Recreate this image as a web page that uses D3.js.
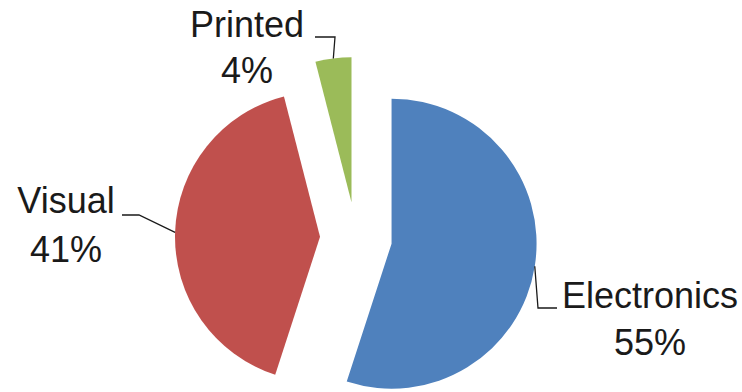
<!DOCTYPE html>
<html>
<head>
<meta charset="utf-8">
<script src="https://cdn.jsdelivr.net/npm/d3@7"></script>
<style>
  body { margin: 0; padding: 0; background: #fff; }
  svg { display: block; }
  text { font-family: "Liberation Sans", Arial, sans-serif; fill: #1a1a1a; }
</style>
</head>
<body>
<script>
var categories = ["Electronics", "Visual", "Printed"];
var values = [55, 41, 4];
var colors = ["#4f81bd", "#c0504d", "#9bbb59"];

var W = 742, H = 392;
var cx = 356, cy = 238, R = 145, explode = 36;

var svg = d3.select("body").append("svg")
  .attr("width", W).attr("height", H);

var pie = d3.pie().sort(null).value(function (d) { return d; });
var arcs = pie(values);
var arc = d3.arc().innerRadius(0).outerRadius(R);

// unit vector for angle measured clockwise from 12 o'clock
function dir(a) { return [Math.sin(a), -Math.cos(a)]; }

var g = svg.append("g").attr("transform", "translate(" + cx + "," + cy + ")");

g.selectAll("path.slice").data(arcs).enter().append("path")
  .attr("class", "slice")
  .attr("d", arc)
  .attr("fill", function (d, i) { return colors[i]; })
  .attr("transform", function (d) {
    var m = dir((d.startAngle + d.endAngle) / 2);
    return "translate(" + m[0] * explode + "," + m[1] * explode + ")";
  });

// label placement (absolute page coords)
var labelPos = [
  { x: 650, y1: 308, y2: 355, elbow: [[557, 308], [538, 308]] },
  { x: 66, y1: 213, y2: 262, elbow: [[122, 215], [139, 215]] },
  { x: 247, y1: 37, y2: 83, elbow: [[315, 37], [335, 37]] }
];

arcs.forEach(function (d, i) {
  var mid = (d.startAngle + d.endAngle) / 2;
  var m = dir(mid);
  var ex = cx + m[0] * (explode + R), ey = cy + m[1] * (explode + R);
  var p = labelPos[i];
  var pts = p.elbow.concat([[ex, ey]]);
  svg.append("path")
    .attr("d", d3.line()(pts))
    .attr("fill", "none")
    .attr("stroke", "#1a1a1a")
    .attr("stroke-width", 1.3);
  svg.append("text")
    .attr("x", p.x).attr("y", p.y1)
    .attr("text-anchor", "middle")
    .style("font-size", "36px")
    .text(categories[i]);
  svg.append("text")
    .attr("x", p.x).attr("y", p.y2)
    .attr("text-anchor", "middle")
    .style("font-size", "36px")
    .text(values[i] + "%");
});
</script>
</body>
</html>
